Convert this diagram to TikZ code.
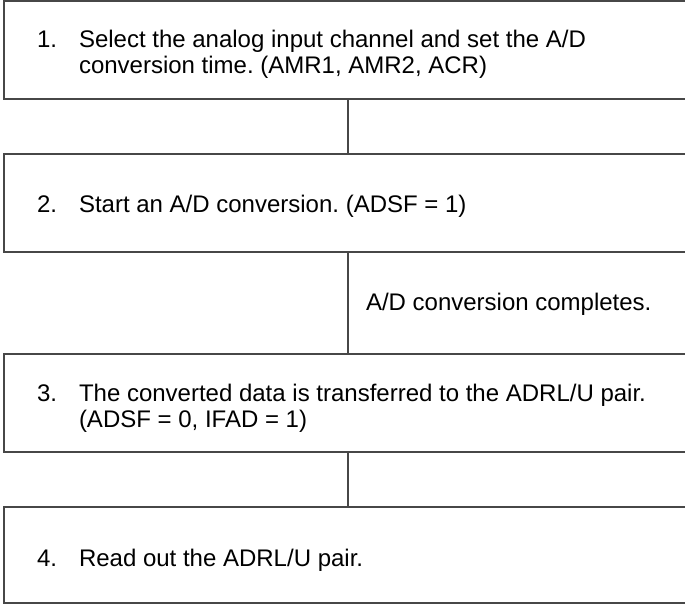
\documentclass[tikz,border=0pt]{standalone}
\usepackage{fontspec}
\setmainfont{Liberation Sans}
\definecolor{linegray}{rgb}{0.28,0.28,0.28}
\begin{document}
\frenchspacing
\begin{tikzpicture}[x=1pt,y=-1pt,
  box/.style={draw=linegray, line width=1.3pt, minimum width=688pt, inner sep=0pt, outer sep=0pt},
  txt/.style={anchor=base west, inner sep=0pt, outer sep=0pt, font=\fontsize{24}{26}\selectfont\frenchspacing, text=black},
  conn/.style={draw=linegray, line width=1.3pt}]
\useasboundingbox (0,0) rectangle (685,605);
% boxes
\node[box, minimum height=98pt] (b1) at (348,50) {};
\node[box, minimum height=98pt] (b2) at (348,203) {};
\node[box, minimum height=98pt] (b3) at (348,403) {};
\node[box, minimum height=96pt] (b4) at (348,555) {};
% connectors
\draw[conn] (b1.south) -- (b2.north);
\draw[conn] (b2.south) -- (b3.north);
\draw[conn] (b3.south) -- (b4.north);
% texts
\node[txt] (n1) at (37,47) {1.};
\node[txt] (t1a) at (79,47) {Select the analog input channel and set the A/D};
\node[txt] (t1b) at (79,73) {conversion time. (AMR1, AMR2, ACR)};
\node[txt] (n2) at (37,212) {2.};
\node[txt] (t2) at (79,212) {Start an A/D conversion. (ADSF = 1)};
\node[txt] (lab) at (366,310) {A/D conversion completes.};
\node[txt] (n3) at (37,401) {3.};
\node[txt] (t3a) at (79,401) {The converted data is transferred to the ADRL/U pair.};
\node[txt] (t3b) at (79,427) {(ADSF = 0, IFAD = 1)};
\node[txt] (n4) at (37,566) {4.};
\node[txt] (t4) at (79,566) {Read out the ADRL/U pair.};
\end{tikzpicture}
\end{document}
